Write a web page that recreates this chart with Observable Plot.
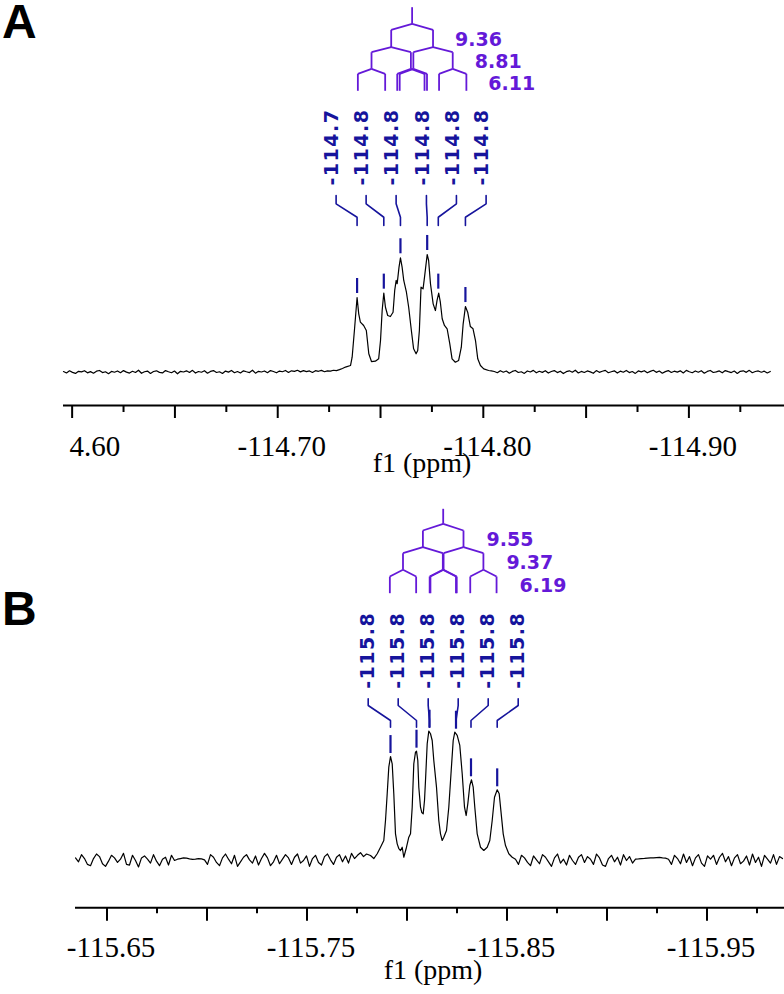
<!DOCTYPE html>
<html><head><meta charset="utf-8">
<script src="https://cdn.jsdelivr.net/npm/d3@7"></script>
<script src="https://cdn.jsdelivr.net/npm/@observablehq/plot@0.6"></script>
<style>
body{margin:0;background:#fff;}
#wrap{position:relative;width:784px;height:994px;overflow:hidden;background:#fff;}
.letter{position:absolute;left:2px;font:bold 48px 'Liberation Sans',Arial,sans-serif;line-height:0.9;color:#000;}
#pA{position:absolute;left:0;top:0;}
#pB{position:absolute;left:0;top:490px;}
</style></head><body>
<div id="wrap"><div id="pA"></div><div id="pB"></div>
<div class="letter" style="top:0px">A</div><div class="letter" style="top:587px">B</div></div>
<script>
// ================= Panel A data =================
const aXDomain = [-114.5958, -114.9465];
const aYDomain = [-0.2851, 3.1617];
const aStep = -0.001459;
const aNoiseLeftStart = -114.5958;
const aNoiseLeft = [.004,-.008,.010,-.003,-.012,.006,.001,.011,-.007,.003,
 -.010,.007,.013,-.005,.002,-.014,.005,-.002,.009,-.006,
 .012,-.001,-.009,.006,-.004,.015,-.011,.002,.008,-.012,
 .004,.010,-.003,-.008,.012,.002,-.006,.008,-.015,.006,
 .000,.010,-.004,.014,-.009,.004,-.002,.011,-.010,.005,
 .012,-.004,.002,-.012,.008,-.001,.013,-.006,.004,-.008,
 .010,.002,-.005,.015,-.010,.006,.000,.009,-.006,.012,
 .004,-.007,.008,.002,.013,-.004,.010,.005,.015,.001,
 .012,.003,.009,-.004,.011,.006,.014,.002,.010,.008,
 .015,.012,.020,.030,.042];
const aTraceX = [-114.7354,-114.7362,-114.7373,-114.7386,-114.7394,-114.7402,-114.7418,-114.7431,-114.7443,-114.7456,-114.7475,-114.7491,-114.7500,-114.7508,-114.7516,-114.7524,-114.7535,-114.7548,-114.7561,-114.7569,-114.7576,-114.7581,-114.7590,-114.7597,-114.7605,-114.7613,-114.7626,-114.7637,-114.7650,-114.7661,-114.7673,-114.7681,-114.7689,-114.7697,-114.7707,-114.7714,-114.7727,-114.7734,-114.7743,-114.7756,-114.7767,-114.7775,-114.7783,-114.7791,-114.7800,-114.7811,-114.7824,-114.7837,-114.7848,-114.7864,-114.7880,-114.7893,-114.7902,-114.7913,-114.7924,-114.7937,-114.7950,-114.7962,-114.7973,-114.7986,-114.8002,-114.8026];
const aTraceY = [0.055,0.126,0.353,0.634,0.495,0.424,0.396,0.353,0.155,0.089,0.092,0.112,0.268,0.523,0.671,0.551,0.481,0.472,0.509,0.694,0.779,0.751,0.892,0.972,0.892,0.779,0.679,0.551,0.353,0.197,0.155,0.183,0.353,0.722,0.708,0.807,1.0,0.949,0.751,0.580,0.523,0.609,0.671,0.594,0.453,0.396,0.368,0.240,0.112,0.083,0.098,0.211,0.410,0.557,0.509,0.387,0.368,0.268,0.112,0.055,0.027,0.013];
const aNoiseRightStart = -114.8039;
const aNoiseRight = [.010,.004,-.006,.011,-.002,.008,-.010,.005,.013,-.004,
 .002,-.012,.009,.000,.014,-.007,.006,-.003,.011,-.009,
 .004,.012,-.005,.007,-.013,.003,.010,-.002,.015,-.008,
 .005,-.004,.009,.001,-.011,.012,-.003,.006,.014,-.006,
 .002,.010,-.009,.007,-.002,.013,-.005,.004,-.012,.009,
 .001,.011,-.007,.005,.015,-.003,.008,-.010,.003,.012,
 -.004,.007,-.001,.010,-.008,.014,.002,-.006,.009,-.002,
 .011,-.010,.005,.013,-.004,.001,.009,-.007,.012,.003,
 -.005,.008,-.012,.006,.010,-.003,.014,-.006,.004,.009,
 -.002,.007,-.008,.005];
const aPeaks = [-114.7386,-114.7516,-114.7597,-114.7727,-114.7781,-114.7913];
const aPeakHeights = [0.634,0.671,0.972,1.0,0.671,0.557];
const aLabelX = [-114.72840,-114.74300,-114.75759,-114.77233,-114.78692,-114.80136];
const aLabels = ["-114.7","-114.8","-114.8","-114.8","-114.8","-114.8"];
const aLeaderY = [1.587, 1.502, 1.431, 1.317, 1.247];
const aCenter = -114.76537, aMHz = 460;
const aJ = [9.36, 8.81, 6.11];
const aJText = ["9.36","8.81","6.11"];
const aTreeY = [3.1047, 2.9634, 2.9123, 2.7643, 2.7217, 2.5804, 2.5379, 2.3932];
const aMajorTicks = [-114.60,-114.65,-114.70,-114.75,-114.80,-114.85,-114.90];
const aMinorTicks = [-114.625,-114.675,-114.725,-114.775,-114.825,-114.875,-114.925];
const aTickValues = [-114.60,-114.70,-114.80,-114.90];
const aTickLabels = ["-114.60","-114.70","-114.80","-114.90"];

// ================= Panel B data =================
const bXDomain = [-115.63425, -115.98875];
const bYDomain = [-0.36385, 2.84615];
const bStep = -0.0015;
const bNoiseLeftStart = -115.63425;
const bNoiseLeft = [.020,-.010,.045,.015,-.030,-.040,.015,.050,.030,-.025,
 -.045,-.005,.040,.020,-.015,.010,.055,-.030,-.035,.040,
 .000,-.050,.020,.035,.010,-.020,.045,-.005,-.040,.010,
 .025,-.035,.040,.000,.010,.015,.020,.018,.012,.008,
 .010,.015,.012,.005,-.030,.045,.025,-.015,-.040,.020,
 .050,.010,-.025,.040,-.045,-.010,.025,.045,.005,-.020,
 .035,-.035,.015,.055,.020,-.040,-.010,.040,-.025,.010,
 .045,.020,-.030,.025,.050,-.020,.000,.035,-.045,.015,
 .040,-.015,-.035,.030,.050,.005,-.030,.025,.045,-.010,
 .035,-.020,.055,.015,.040,.060,.030,.050];
const bTraceX = [-115.78175,-115.7834,-115.7851,-115.78675,-115.7884,-115.78925,-115.7901,-115.7909,-115.79175,-115.7926,-115.7934,-115.79425,-115.7951,-115.7959,-115.79675,-115.7976,-115.7984,-115.79975,-115.8009,-115.80175,-115.8026,-115.8034,-115.80425,-115.80475,-115.8054,-115.8059,-115.80675,-115.8074,-115.8081,-115.80875,-115.80925,-115.8101,-115.8109,-115.81175,-115.8126,-115.8134,-115.81475,-115.8159,-115.81675,-115.8176,-115.8184,-115.81975,-115.8209,-115.8221,-115.8231,-115.8239,-115.8251,-115.8264,-115.8276,-115.82875,-115.8296,-115.8304,-115.8314,-115.83225,-115.8331,-115.8339,-115.8351,-115.83675,-115.8384,-115.8401,-115.8414,-115.8426,-115.84375,-115.8451,-115.8461,-115.8471,-115.8481,-115.84925,-115.8509,-115.8526];
const bTraceY = [0.038,0.015,0.052,0.102,0.154,0.308,0.513,0.718,0.800,0.744,0.513,0.205,0.128,0.092,0.077,0.102,0.025,0.102,0.179,0.205,0.410,0.744,0.833,0.841,0.769,0.564,0.410,0.369,0.359,0.462,0.615,0.898,0.995,0.975,0.923,0.769,0.564,0.308,0.205,0.154,0.179,0.231,0.410,0.692,0.923,0.987,0.962,0.885,0.667,0.410,0.346,0.436,0.577,0.621,0.564,0.410,0.205,0.102,0.077,0.102,0.154,0.308,0.487,0.544,0.513,0.359,0.205,0.115,0.052,0.025];
const bNoiseRightStart = -115.85425;
const bNoiseRight = [.010,-.030,.040,.020,-.015,-.040,.035,.005,-.025,.045,
 .025,-.010,-.045,.020,.050,-.020,.010,-.035,.040,.000,
 -.030,.025,.045,-.015,.030,.010,-.030,.050,.020,-.035,
 -.045,.015,.040,-.010,.025,-.035,.045,.000,.030,-.020,
 .010,.012,.015,.016,.018,.020,.020,.022,.024,.020,
 .018,.010,-.030,.040,.015,-.025,.050,-.015,.030,-.040,
 .020,.045,-.020,-.045,.035,.010,.040,-.030,.025,.055,
 -.010,.030,-.040,.020,.045,-.025,-.005,.035,-.035,.050,
 -.015,.025,-.045,.040,.010,-.020,.045,-.030,.030,.015];
const bPeaks = [-115.79175,-115.80475,-115.81125,-115.8245,-115.8320,-115.8451];
const bPeakHeights = [0.800,0.841,0.995,0.987,0.621,0.544];
const bLabelX = [-115.7806,-115.7956,-115.8106,-115.8256,-115.8406,-115.8556];
const bLabels = ["-115.8","-115.8","-115.8","-115.8","-115.8","-115.8"];
const bLeaderY = [1.3208, 1.2438, 1.1923, 1.0769, 1.0254];
const bCenter = -115.8181, bMHz = 470.6;
const bJ = [9.55, 9.37, 6.19];
const bJText = ["9.55","9.37","6.19"];
const bTreeY = [2.7054, 2.5900, 2.5385, 2.4100, 2.3638, 2.2362, 2.1846, 2.0562];
const bMajorTicks = [-115.65,-115.70,-115.75,-115.80,-115.85,-115.90,-115.95];
const bMinorTicks = [-115.675,-115.725,-115.775,-115.825,-115.875,-115.925,-115.975];
const bTickValues = [-115.65,-115.75,-115.85,-115.95];
const bTickLabels = ["-115.65","-115.75","-115.85","-115.95"];

const xTitle = "f1 (ppm)";
const BLUE = "#16149c", PURPLE = "#6419d8";
const SERIF = "'Liberation Serif','Times New Roman',serif";
const SANS = "'DejaVu Sans',Verdana,sans-serif";

function panel(c) {
  const spec = [];
  c.noiseL.forEach((v, i) => spec.push({x: c.noiseLStart + i * c.step, y: v}));
  c.traceX.forEach((x, i) => spec.push({x, y: c.traceY[i]}));
  c.noiseR.forEach((v, i) => spec.push({x: c.noiseRStart + i * c.step, y: v}));

  // splitting tree
  const segs = [];
  const [yTop, yStem, ...lv] = c.treeY;
  segs.push({x1: c.center, y1: yTop, x2: c.center, y2: yStem});
  let nodes = [c.center], yStart = yStem;
  const jLab = [];
  c.J.forEach((J, k) => {
    const half = J / c.MHz / 2, yArm = lv[2 * k], yBot = lv[2 * k + 1];
    const next = [];
    nodes.forEach(p => {
      for (const s of [-1, 1]) {
        const ch = p + s * half;
        segs.push({x1: p, y1: yStart, x2: ch, y2: yArm});
        segs.push({x1: ch, y1: yArm, x2: ch, y2: yBot});
        next.push(ch);
      }
    });
    nodes = next; yStart = yBot;
    jLab.push({x: Math.min(...next), y: yBot, t: c.JText[k]});
  });

  const [lb, lt, k1, k2, bot] = c.leaderY;
  const leaders = [];
  c.peaks.forEach((p, i) => {
    leaders.push({i, x: c.labelX[i], y: lt}, {i, x: c.labelX[i], y: k1}, {i, x: p, y: k2}, {i, x: p, y: bot});
  });
  const markers = c.peaks.map((p, i) => ({x: p, y1: c.heights[i] + c.gap, y2: c.heights[i] + c.gap + c.mlen}));
  const labels = c.labels.map((t, i) => ({x: c.labelX[i], y: lb, t}));
  const y0 = c.yDomain[0];

  return Plot.plot({
    width: 784, height: c.height,
    marginLeft: c.ml, marginRight: 0, marginTop: 0, marginBottom: c.mb,
    x: {domain: c.xDomain, axis: null},
    y: {domain: c.yDomain, axis: null},
    style: {fontFamily: SERIF, background: "transparent", overflow: "visible"},
    marks: [
      Plot.ruleY([y0], {stroke: "black", strokeWidth: 2}),
      Plot.ruleX(c.major, {x: d => d, y1: y0, y2: y0 - c.longTick / c.unit, stroke: "black", strokeWidth: 2}),
      Plot.ruleX(c.minor, {x: d => d, y1: y0, y2: y0 - c.shortTick / c.unit, stroke: "black", strokeWidth: 2}),
      Plot.text(c.tickValues, {x: d => d, y: y0, text: (d, i) => c.tickLabels[i], dy: c.labelDy, dx: 4,
        lineAnchor: "top", fontSize: 29, fontFamily: SERIF, fill: "black"}),
      Plot.text([xTitle], {frameAnchor: "bottom", dy: c.titleDy, dx: c.titleDx, lineAnchor: "top", fontSize: 28, fontFamily: SERIF, fill: "black"}),
      Plot.line(spec, {x: "x", y: "y", stroke: "black", strokeWidth: 1.2}),
      Plot.ruleX(markers, {x: "x", y1: "y1", y2: "y2", stroke: BLUE, strokeWidth: 2.2}),
      Plot.line(leaders, {x: "x", y: "y", z: "i", stroke: BLUE, strokeWidth: 1.6, strokeLinejoin: "miter"}),
      Plot.text(labels, {x: "x", y: "y", text: "t", rotate: -90, textAnchor: "start", lineAnchor: "middle",
        dx: c.labelDx, fill: BLUE, fontWeight: "bold", fontSize: 19, fontFamily: SANS}),
      Plot.link(segs, {x1: "x1", y1: "y1", x2: "x2", y2: "y2", stroke: PURPLE, strokeWidth: 1.8}),
      Plot.text(jLab, {x: "x", y: "y", text: "t", textAnchor: "start", lineAnchor: "bottom", dx: c.jDx, dy: -1,
        fill: PURPLE, fontWeight: "bold", fontSize: 19, fontFamily: SANS})
    ]
  });
}

const svgA = panel({
  height: 490, ml: 63, mb: 85, unit: 117.5, xDomain: aXDomain, yDomain: aYDomain, step: aStep,
  noiseL: aNoiseLeft, noiseLStart: aNoiseLeftStart, traceX: aTraceX, traceY: aTraceY,
  noiseR: aNoiseRight, noiseRStart: aNoiseRightStart, peaks: aPeaks, heights: aPeakHeights,
  labelX: aLabelX, labels: aLabels, leaderY: aLeaderY, center: aCenter, MHz: aMHz, J: aJ, JText: aJText,
  treeY: aTreeY, major: aMajorTicks, minor: aMinorTicks, tickValues: aTickValues, tickLabels: aTickLabels,
  longTick: 13, shortTick: 7, labelDy: 30, titleDy: 47, titleDx: -2, labelDx: -4, jDx: 22, gap: 0.034, mlen: 0.128
});
const svgB = panel({
  height: 504, ml: 75, mb: 86.7, unit: 130, xDomain: bXDomain, yDomain: bYDomain, step: bStep,
  noiseL: bNoiseLeft, noiseLStart: bNoiseLeftStart, traceX: bTraceX, traceY: bTraceY,
  noiseR: bNoiseRight, noiseRStart: bNoiseRightStart, peaks: bPeaks, heights: bPeakHeights,
  labelX: bLabelX, labels: bLabels, leaderY: bLeaderY, center: bCenter, MHz: bMHz, J: bJ, JText: bJText,
  treeY: bTreeY, major: bMajorTicks, minor: bMinorTicks, tickValues: bTickValues, tickLabels: bTickLabels,
  longTick: 13.5, shortTick: 6, labelDy: 29, titleDy: 51, titleDx: 3, labelDx: 0, jDx: 23, gap: 0.023, mlen: 0.138
});
document.getElementById("pA").appendChild(svgA);
document.getElementById("pB").appendChild(svgB);

// letter spacing for rotated peak labels
for (const svg of [svgA, svgB]) {
  svg.querySelectorAll(`g[fill="${BLUE}"] text`).forEach(t => t.style.letterSpacing = "1.5px");
}
// the first tick label of panel A is cut by the plot edge in the original
const first = [...svgA.querySelectorAll("text")].find(e => e.textContent === "-114.60");
if (first) {
  const ns = "http://www.w3.org/2000/svg";
  const defs = document.createElementNS(ns, "defs");
  const cp = document.createElementNS(ns, "clipPath");
  cp.setAttribute("id", "clipTickA");
  const r = document.createElementNS(ns, "rect");
  r.setAttribute("x", 64.5); r.setAttribute("y", -2000); r.setAttribute("width", 3000); r.setAttribute("height", 5000);
  cp.appendChild(r); defs.appendChild(cp); svgA.insertBefore(defs, svgA.firstChild);
  first.parentNode.setAttribute("clip-path", "url(#clipTickA)");
}
</script>
</body></html>
